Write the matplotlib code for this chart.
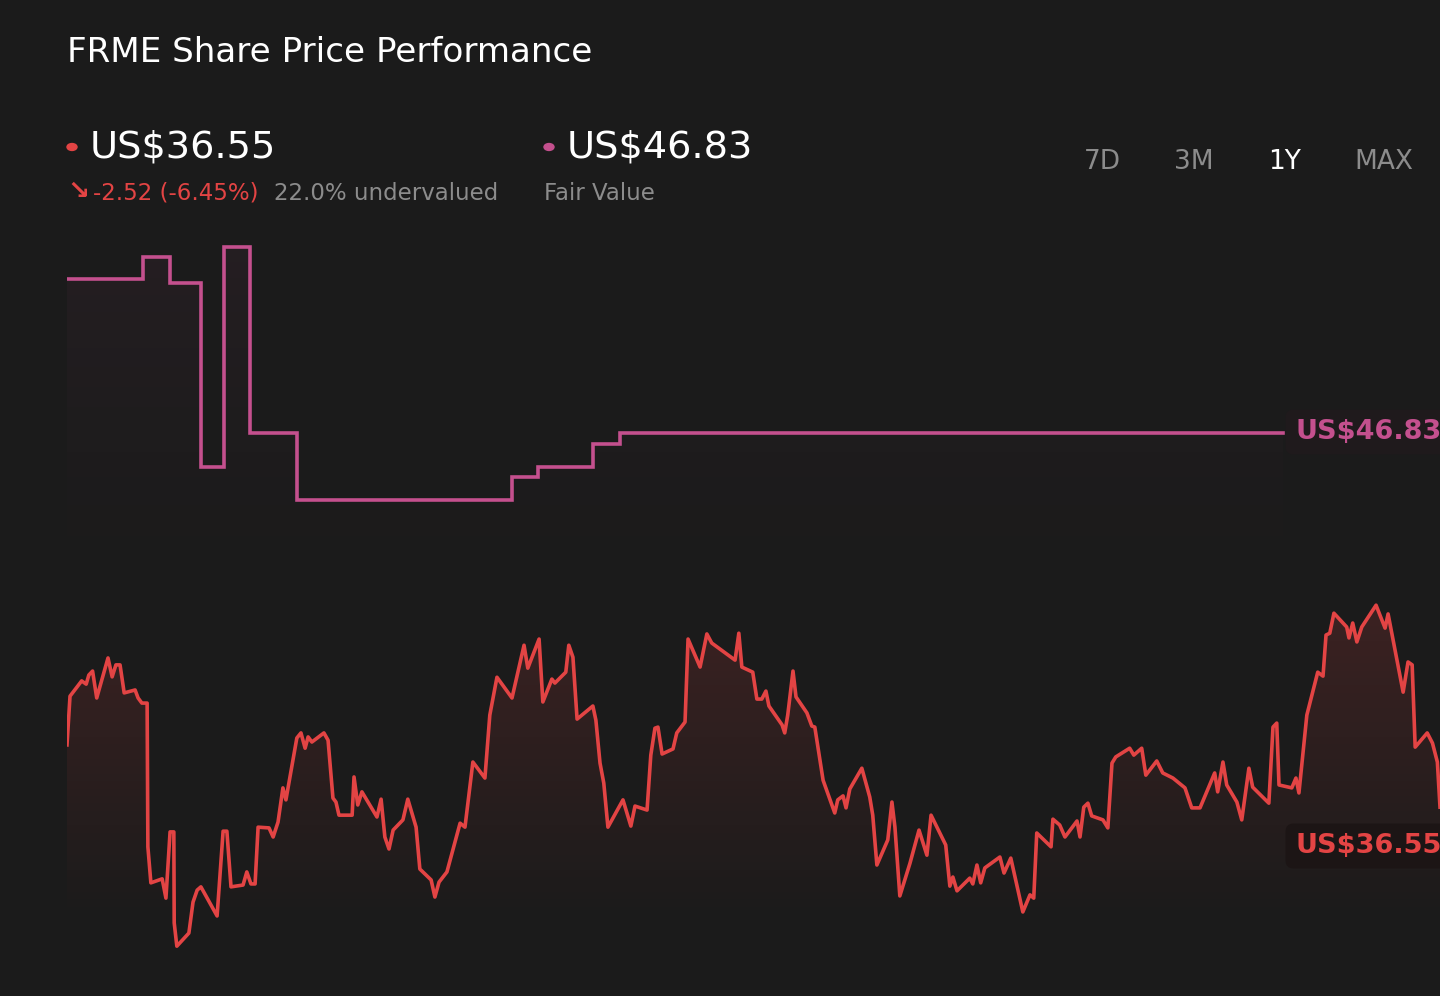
import numpy as np
import matplotlib
matplotlib.use("Agg")
import matplotlib.pyplot as plt

# ---- data ----
price_day = [0, 0.8, 3.9, 5.1, 5.8, 6.8, 7.9, 10.9, 12.0, 13.0,
             14.1, 15.2, 18.1, 18.9, 19.9, 21.3, 21.5, 22.3, 25.3, 26.3,
             27.4, 28.4, 28.5, 29.2, 32.4, 33.5, 34.6, 35.6, 39.9, 41.5,
             42.5, 43.6, 46.8, 47.8, 48.9, 50.0, 50.8, 53.7, 54.8, 56.1,
             57.4, 58.2, 61.1, 62.2, 63.3, 64.1, 65.1, 68.3, 69.4, 70.7,
             71.5, 72.3, 75.8, 76.3, 77.3, 78.4, 82.4, 83.5, 84.5, 85.6,
             86.7, 89.3, 90.6, 92.8, 93.8, 96.8, 97.8, 98.9, 101.0, 104.5,
             105.8, 107.9, 111.1, 112.4, 114.3, 118.3, 121.5, 122.5, 125.5, 126.5,
             128.9, 129.7, 132.6, 133.4, 134.5, 135.6, 139.8, 140.6, 141.7, 142.7,
             143.8, 147.8, 149.9, 151.0, 154.2, 155.2, 156.3, 157.1, 158.2, 161.1,
             162.1, 164.3, 165.1, 168.3, 170.1, 171.4, 177.6, 178.6, 179.4, 182.3,
             183.4, 184.7, 185.8, 186.6, 190.1, 190.8, 191.6, 193.0, 193.8, 196.7,
             198.0, 198.8, 201.0, 204.1, 204.9, 206.3, 207.1, 208.1, 211.3, 213.4,
             214.2, 215.3, 218.2, 219.3, 220.1, 221.4, 224.1, 226.5, 228.6, 229.7,
             233.6, 234.7, 235.5, 236.6, 240.0, 240.8, 241.9, 242.9, 244.0, 248.0,
             249.1, 250.9, 254.1, 256.0, 257.0, 257.8, 261.6, 262.1, 263.9, 265.3,
             268.5, 269.3, 270.3, 271.4, 272.4, 275.4, 276.7, 277.8, 278.8, 282.5,
             283.6, 285.7, 286.8, 289.7, 291.3, 294.0, 297.2, 299.0, 301.2, 305.1,
             305.9, 307.3, 308.3, 311.0, 312.3, 314.2, 315.2, 319.5, 320.6, 321.6,
             322.2, 325.6, 326.7, 327.5, 329.6, 332.5, 333.9, 334.7, 335.7, 336.8,
             340.2, 340.8, 341.8, 342.9, 344.2, 348.0, 350.4, 351.2, 355.2, 356.5,
             357.6, 358.4, 361.6, 363.0, 364.3, 365.0]

price = [38.26, 39.60, 40.02, 39.93, 40.18, 40.29, 39.55, 40.65, 40.13, 40.46,
         40.46, 39.69, 39.77, 39.55, 39.41, 39.41, 35.46, 34.47, 34.58, 34.05,
         35.87, 35.87, 33.37, 32.73, 33.09, 33.94, 34.27, 34.36, 33.56, 35.89,
         35.89, 34.36, 34.41, 34.77, 34.44, 34.44, 36.00, 35.98, 35.73, 36.14,
         37.08, 36.75, 38.45, 38.59, 38.17, 38.48, 38.34, 38.59, 38.39, 36.80,
         36.69, 36.33, 36.33, 37.38, 36.61, 36.97, 36.28, 36.77, 35.73, 35.40,
         35.92, 36.20, 36.77, 36.00, 34.85, 34.55, 34.08, 34.49, 34.77, 36.11,
         36.00, 37.79, 37.35, 39.08, 40.12, 39.55, 41.00, 40.37, 41.17, 39.44,
         40.07, 39.96, 40.26, 41.00, 40.67, 38.97, 39.33, 38.94, 37.76, 37.21,
         36.00, 36.75, 36.03, 36.58, 36.47, 37.98, 38.72, 38.75, 38.01, 38.15,
         38.59, 38.89, 41.17, 40.40, 41.31, 41.06, 40.59, 41.33, 40.40, 40.26,
         39.52, 39.52, 39.74, 39.33, 38.81, 38.59, 39.08, 40.29, 39.58, 39.14,
         38.78, 38.75, 37.29, 36.39, 36.75, 36.86, 36.53, 37.05, 37.62, 36.83,
         36.33, 34.96, 35.65, 36.69, 36.00, 34.11, 35.01, 35.92, 35.23, 36.33,
         35.51, 34.38, 34.63, 34.25, 34.60, 34.44, 34.96, 34.47, 34.88, 35.18,
         34.74, 35.15, 33.67, 34.14, 34.05, 35.84, 35.46, 36.22, 36.06, 35.73,
         36.17, 35.73, 36.55, 36.66, 36.31, 36.20, 35.98, 37.76, 37.93, 38.17,
         37.98, 38.17, 37.43, 37.82, 37.49, 37.35, 37.08, 36.53, 36.53, 37.49,
         36.97, 37.79, 37.16, 36.69, 36.20, 37.62, 37.10, 36.66, 38.75, 38.86,
         37.16, 37.08, 37.35, 36.94, 39.08, 40.26, 40.15, 41.28, 41.33, 41.88,
         41.50, 41.20, 41.61, 41.09, 41.50, 42.10, 41.47, 41.86, 39.71, 40.54,
         40.46, 38.20, 38.59, 38.31, 37.79, 36.55]

fv_day = [0, 20.2, 27.4, 35.6, 41.7, 48.6, 61.1, 118.3, 125.2, 139.8, 147.0, 323.2]
fair_value = [51.06, 51.67, 50.95, 45.90, 51.94, 46.83, 44.99, 45.62, 45.90, 46.53, 46.83, 46.83]

last_price = "US$36.55"
fv_label = "US$46.83"
change_txt = "-2.52 (-6.45%)"
valuation_txt = "22.0% undervalued"
ranges = ["7D", "3M", "1Y", "MAX"]
active_range = "1Y"

# ---- style ----
BG = "#1b1b1b"
RED = "#e34444"
PINK = "#c4508e"
GREY = "#8c8c8c"
W, H = 1440, 996


def fx(x):
    return x / W


def fy(y):
    return 1 - y / H


fig = plt.figure(figsize=(W / 100, H / 100), dpi=100, facecolor=BG)
ax = fig.add_axes([fx(67), fy(960), fx(W - 67), (960 - 230) / H])
ax.set_facecolor(BG)
ymin, ymax = 32.35, 52.41

# faint gradient under the fair value step line
fv_fill = ax.fill_between(fv_day, fair_value, ymin, step="post", color="none", lw=0)
g = np.zeros((256, 1, 4))
g[..., 0], g[..., 1], g[..., 2] = 0.77, 0.31, 0.56
g[:, 0, 3] = np.linspace(0, 1, 256) ** 1.6 * 0.065
im = ax.imshow(g, extent=[0, 365, 41, 52.2], origin="lower", aspect="auto", zorder=1)
im.set_clip_path(fv_fill.get_paths()[0], transform=ax.transData)

# gradient under the price line
p_fill = ax.fill_between(price_day, price, ymin, color="none", lw=0)
g2 = np.zeros((256, 1, 4))
g2[..., 0], g2[..., 1], g2[..., 2] = 0.89, 0.27, 0.27
g2[:, 0, 3] = np.linspace(0, 0.17, 256)
im2 = ax.imshow(g2, extent=[0, 365, 33.4, 42.2], origin="lower", aspect="auto", zorder=2)
im2.set_clip_path(p_fill.get_paths()[0], transform=ax.transData)

ax.plot(fv_day, fair_value, drawstyle="steps-post", color=PINK, lw=2.6, zorder=4,
        solid_joinstyle="miter")
ax.plot(price_day, price, color=RED, lw=2.6, zorder=5, solid_joinstyle="round")

ax.set_xlim(0, 365)
ax.set_ylim(ymin, ymax)
ax.axis("off")

# ---- header texts ----
fig.text(fx(67), fy(53), "FRME Share Price Performance", color="white",
         fontsize=24.6, va="center", ha="left")

fig.text(fx(90), fy(147), last_price, color="white", fontsize=27.6, va="center")
fig.text(fx(567), fy(147), fv_label, color="white", fontsize=27.6, va="center")
fig.patches.append(plt.Circle((fx(72), fy(147)), 5 / W, transform=fig.transFigure,
                              color=RED, figure=fig))
fig.patches.append(plt.Circle((fx(549), fy(147)), 5 / W, transform=fig.transFigure,
                              color=PINK, figure=fig))

fig.text(fx(67), fy(192), "\u2198", color=RED, fontsize=19, va="center",
         fontweight="bold")
fig.text(fx(93), fy(193), change_txt, color=RED, fontsize=16.5, va="center")
fig.text(fx(274), fy(193), valuation_txt, color=GREY, fontsize=16.5, va="center")
fig.text(fx(544), fy(193), "Fair Value", color=GREY, fontsize=16.5, va="center")

for lab, xc in zip(ranges, [1102, 1194, 1285, 1384]):
    fig.text(fx(xc), fy(162), lab, color="white" if lab == active_range else GREY,
             fontsize=19, ha="center", va="center")

# ---- right side value tags ----
fig.text(fx(1295), fy(432), fv_label, color=PINK, fontsize=19.5, fontweight="bold",
         va="center", ha="left",
         bbox=dict(boxstyle="round,pad=0.35,rounding_size=0.3", fc="#1f1a1c", ec="none"))
fig.text(fx(1295), fy(846), last_price, color=RED, fontsize=19.5, fontweight="bold",
         va="center", ha="left",
         bbox=dict(boxstyle="round,pad=0.35,rounding_size=0.3", fc="#1c1515", ec="none"))

fig.savefig("out.png", dpi=100, facecolor=BG)
